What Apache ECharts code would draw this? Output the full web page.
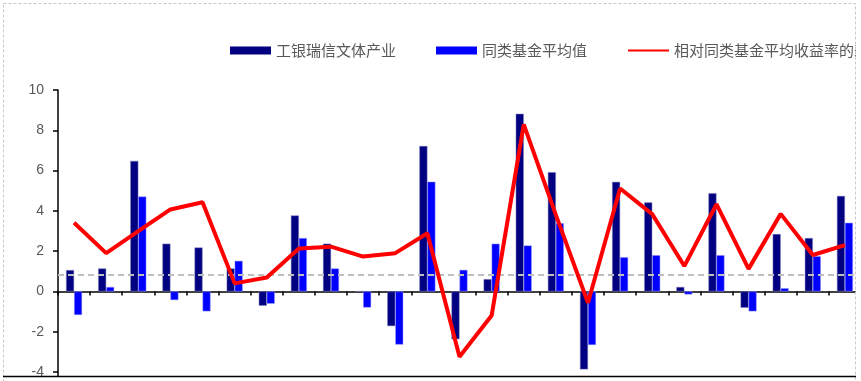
<!doctype html>
<html>
    <head>
        <meta charset="utf-8">
        <title>工银瑞信文体产业</title>
        <style>
            html, body { margin: 0; padding: 0; background: #fff; }
            #main { width: 861px; height: 381px; }
        </style>
    </head>
    <body>
        <div id="main"></div>
        <script src="https://cdn.jsdelivr.net/npm/echarts@6/dist/echarts.min.js"></script>
        <script>
            var categories = ['1', '2', '3', '4', '5', '6', '7', '8', '9', '10', '11', '12', '13',
                '14', '15', '16', '17', '18', '19', '20', '21', '22', '23', '24', '25'];
            // 工银瑞信文体产业
            var fundValues = [1.06, 1.14, 6.48, 2.37, 2.18, 1.14, -0.71, 3.77, 2.37, 0, -1.72, 7.22, -2.37,
                0.61, 8.82, 5.92, -3.87, 5.44, 4.42, 0.22, 4.88, -0.81, 2.85, 2.65, 4.74];
            // 同类基金平均值
            var peerValues = [-1.17, 0.22, 4.71, -0.43, -0.99, 1.52, -0.61, 2.65, 1.14, -0.80, -2.64, 5.45, 1.07,
                2.37, 2.28, 3.39, -2.66, 1.70, 1.80, -0.15, 1.80, -0.99, 0.16, 1.75, 3.41];
            // 相对同类基金平均收益率的差值
            var relValues = [3.41, 1.90, 2.99, 4.07, 4.43, 0.40, 0.69, 2.13, 2.22, 1.73, 1.90, 2.89, -3.24,
                -1.20, 8.29, 3.80, -0.56, 5.11, 3.84, 1.26, 4.33, 1.12, 3.85, 1.81, 2.30];
            var refLevel = 0.85;
            var yTicks = { min: -4, max: 10, interval: 2 };

            var names = ['工银瑞信文体产业', '同类基金平均值', '相对同类基金平均收益率的差值'];

            var chart = echarts.init(document.getElementById('main'));

            chart.setOption({
                animation: false,
                backgroundColor: '#fff',
                legend: {
                    left: 225,
                    top: 38,
                    width: 900,
                    itemWidth: 41,
                    itemHeight: 8,
                    itemGap: 40,
                    textStyle: {
                        color: '#595959',
                        fontSize: 15,
                        fontFamily: 'Noto Sans CJK SC'
                    },
                    data: [
                        { name: names[0], icon: 'rect', itemStyle: { borderWidth: 0 } },
                        { name: names[1], icon: 'rect', itemStyle: { borderWidth: 0 } },
                        { name: names[2], itemStyle: { opacity: 0 } }
                    ]
                },
                grid: {
                    left: 58,
                    top: 90,
                    width: 807,
                    height: 282
                },
                xAxis: {
                    type: 'category',
                    data: categories,
                    axisLine: { onZero: true, lineStyle: { color: '#000', width: 1.5 } },
                    axisTick: { show: true, length: 4, interval: 0, lineStyle: { color: '#000', width: 1.5 } },
                    axisLabel: { show: false },
                    splitLine: { show: false }
                },
                yAxis: {
                    type: 'value',
                    min: yTicks.min,
                    max: yTicks.max,
                    interval: yTicks.interval,
                    axisLine: { show: true, lineStyle: { color: '#000', width: 1.5 } },
                    axisTick: { show: true, length: 5, lineStyle: { color: '#000', width: 1.5 } },
                    axisLabel: {
                        color: '#595959',
                        fontSize: 14,
                        fontFamily: 'Liberation Sans',
                        margin: 14
                    },
                    splitLine: { show: false }
                },
                series: [{
                    name: names[0],
                    type: 'bar',
                    data: fundValues,
                    barWidth: 8,
                    barGap: '0%',
                    itemStyle: { color: '#000080', borderColor: '#7f7fbf', borderWidth: 0.5 },
                    markLine: {
                        silent: true,
                        symbol: 'none',
                        label: { show: false },
                        lineStyle: { color: '#bfbfbf', type: [6, 4], width: 2 },
                        data: [{ yAxis: refLevel }]
                    }
                }, {
                    name: names[1],
                    type: 'bar',
                    data: peerValues,
                    barWidth: 8,
                    itemStyle: { color: '#0000ff', borderColor: '#9f9fff', borderWidth: 0.5 }
                }, {
                    name: names[2],
                    type: 'line',
                    data: relValues,
                    symbol: 'none',
                    z: 5,
                    lineStyle: { color: '#ff0000', width: 4 },
                    itemStyle: { color: '#ff0000' }
                }],
                graphic: [{
                    type: 'rect',
                    z: 100,
                    shape: { x: 856, y: 0, width: 10, height: 381 },
                    style: { fill: '#fff' }
                }, {
                    type: 'rect',
                    z: 101,
                    shape: { x: 3.5, y: 3.5, width: 852, height: 390 },
                    style: { fill: null, stroke: '#c8c8c8', lineWidth: 1, lineDash: [3, 2] }
                }, {
                    type: 'line',
                    z: 101,
                    shape: { x1: 3, y1: 376.5, x2: 856, y2: 376.5 },
                    style: { stroke: '#000', lineWidth: 1.5 }
                }, {
                    type: 'line',
                    z: 101,
                    shape: { x1: 58, y1: 372, x2: 58, y2: 376.5 },
                    style: { stroke: '#000', lineWidth: 1.5 }
                }]
            });

            window.addEventListener('resize', function () {
                chart.resize();
            });
        </script>
    </body>
</html>
